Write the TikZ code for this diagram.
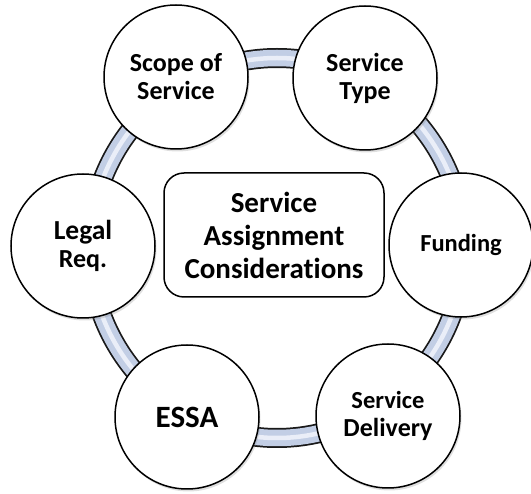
\documentclass[tikz,border=0pt]{standalone}
\usepackage{fontspec}
\setmainfont{Carlito}[Ligatures={NoCommon,NoContextual}]
\usetikzlibrary{shadows}
\definecolor{tubeedge}{RGB}{25,25,25}
\definecolor{tubefill}{RGB}{194,206,229}
\definecolor{tubelight}{RGB}{234,238,248}
\tikzset{
  topic/.style={circle, draw=black, line width=1.5pt, fill=white, minimum size=144pt, inner sep=0pt, align=center,
    font=\bfseries\fontsize{26}{28}\selectfont,
    drop shadow={shadow xshift=1.5pt, shadow yshift=-2.5pt, opacity=0.25}},
  hub/.style={rectangle, rounded corners=20pt, draw=black, line width=1.5pt, fill=white, minimum width=220pt, minimum height=124pt, align=center,
    font=\bfseries\fontsize{29}{33}\selectfont}
}
\begin{document}
\begin{tikzpicture}[x=1pt,y=-1pt]
\useasboundingbox (0,0) rectangle (531,494);
% ring tube
\coordinate (ringc) at (277,248);
\draw[tubeedge, line width=20pt] (ringc) ellipse [x radius=187, y radius=190];
\draw[tubefill, line width=16.5pt] (ringc) ellipse [x radius=187, y radius=190];
\draw[tubelight, line width=4.5pt] (ringc) ellipse [x radius=187, y radius=190];
% circles
\node[topic] (scope) at (176,77) {Scope of\\Service};
\node[topic] (type) at (365,78) {Service\\Type};
\node[topic] (legal) at (83,246) {\fontsize{27.5}{29}\selectfont Legal\\Req.};
\node[topic] (fund) at (461,245) {\fontsize{24.5}{26}\selectfont Funding};
\node[topic] (essa) at (187,417) {\fontsize{31}{33}\selectfont ESSA};
\node[topic] (deliv) at (388,416) {\fontsize{24.5}{26}\selectfont Service\\Delivery};
% center box
\node[hub] (center) at (274,235) {Service\\Assignment\\Considerations};
\end{tikzpicture}
\end{document}
